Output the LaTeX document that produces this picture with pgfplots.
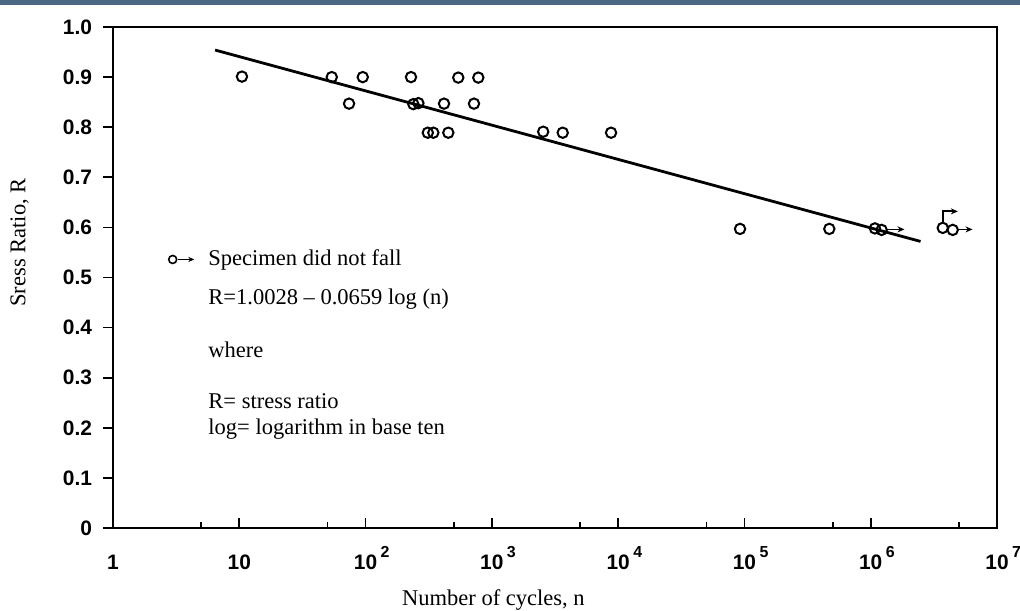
\documentclass[border=0pt]{standalone}
\usepackage{fontspec}
\setmainfont{Liberation Serif}
\newfontfamily\tickfont{Liberation Sans}
\usepackage{pgfplots}
\pgfplotsset{compat=1.18}
\usetikzlibrary{arrows.meta}
\definecolor{barblue}{HTML}{4A6886}
\newcommand{\ex}[1]{\rlap{\smash{\,\raisebox{0.55em}{\fontsize{8}{9}\selectfont #1}}}}
\begin{document}
\begin{tikzpicture}
\useasboundingbox (-56.5bp,-41.5bp) rectangle (453.5bp,264bp);
\begin{axis}[
  at={(0,0)}, anchor=south west,
  scale only axis, width=442bp, height=250.5bp,
  xmode=log, xmin=1, xmax=1e7, ymin=0, ymax=1,
  xtick={1,10,100,1000,10000,100000,1000000,10000000},
  xticklabels={1,10,10\ex{2},10\ex{3},10\ex{4},10\ex{5},10\ex{6},10\ex{7}},
  minor xtick={5,50,500,5000,50000,500000,5000000},
  ytick={0,0.1,0.2,0.3,0.4,0.5,0.6,0.7,0.8,0.9,1.0},
  yticklabels={0,0.1,0.2,0.3,0.4,0.5,0.6,0.7,0.8,0.9,1.0},
  xtick pos=lower, ytick pos=left,
  xtick align=inside, ytick align=outside,
  major tick length=5bp, minor tick length=3bp,
  tick style={black, line width=0.8bp},
  axis line style={line width=0.9bp},
  tick label style={font=\tickfont\bfseries\fontsize{10.5}{12}\selectfont},
  xticklabel style={anchor=base, yshift=-20.5bp},
  yticklabel style={xshift=-2bp},
  xlabel={Number of cycles, n},
  ylabel={Sress Ratio, R},
  label style={font=\fontsize{11.3}{13}\selectfont},
  xlabel style={at={(rel axis cs:0.4304,0)}, anchor=base, yshift=-38.5bp},
  ylabel style={at={(rel axis cs:-0.099,0.570)}, anchor=base},
  clip=false,
]
% fitted line
\addplot[black, line width=1.4bp] coordinates {(6.43,0.954) (2.48e6,0.572)};
% data
\addplot[only marks, mark=o, mark size=2.6bp, mark options={line width=1bp, black}] coordinates {
(10.5,0.901) (54,0.900) (95,0.900) (229,0.900) (542,0.899) (781,0.899)
(74,0.847) (239,0.846) (262,0.848) (418,0.847) (722,0.847)
(311,0.789) (344,0.789) (452,0.789) (2550,0.791) (3640,0.789) (8790,0.789)
(92300,0.597) (470000,0.597) (1.08e6,0.598) (1.22e6,0.595) (3.72e6,0.599) (4.46e6,0.595)
};
% run-out arrows
\addplot[black, line width=0.9bp, -{Stealth[length=3.5bp,width=3bp]}] coordinates {(1.32e6,0.596) (1.85e6,0.596)};
\addplot[black, line width=0.9bp, -{Stealth[length=3.5bp,width=3bp]}] coordinates {(4.85e6,0.596) (6.4e6,0.596)};
\addplot[black, line width=0.9bp, -{Stealth[length=3.5bp,width=3bp]}] coordinates {(3.72e6,0.611) (3.72e6,0.632) (4.9e6,0.632)};
% legend symbol
\addplot[only marks, mark=o, mark size=2bp, mark options={line width=0.8bp, black}] coordinates {(2.97,0.536)};
\addplot[black, line width=0.9bp, -{Stealth[length=3bp,width=2.6bp]}] coordinates {(3.3,0.536) (4.4,0.536)};
% annotation text
\begin{scope}[every node/.style={anchor=base west, inner sep=0pt, font=\fontsize{11.3}{13}\selectfont}]
\node at (rel axis cs:0.1075,0.523) {Specimen did not fall};
\node at (rel axis cs:0.1075,0.447) {R=1.0028 -- 0.0659 log (n)};
\node at (rel axis cs:0.1075,0.341) {where};
\node at (rel axis cs:0.1075,0.2395) {R= stress ratio};
\node at (rel axis cs:0.1075,0.1876) {log= logarithm in base ten};
\end{scope}
\end{axis}
\fill[barblue] (-56.5bp,261.5bp) rectangle (453.5bp,264bp);
\end{tikzpicture}
\end{document}
